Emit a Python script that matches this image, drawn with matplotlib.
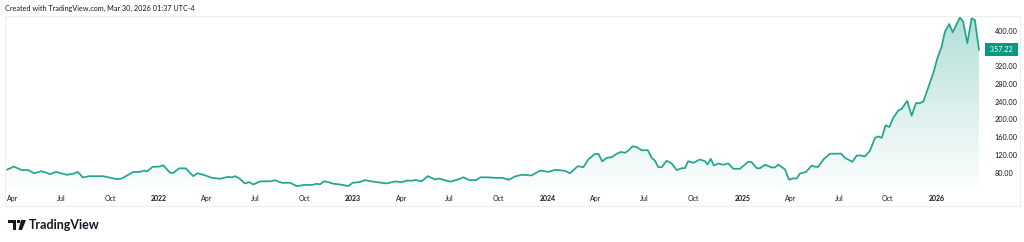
"""
Weekly price chart in the TradingView area style (line + gradient fill).
Values read off the reference picture; x is stored as decimal years.
"""

import matplotlib

matplotlib.use("Agg")
import matplotlib.pyplot as plt
import matplotlib.dates as mdates
import matplotlib.transforms as mtransforms
from matplotlib.patches import Polygon, Rectangle
import numpy as np
import pandas as pd


# data (decimal year, close)
YEARS = [
    2021.220, 2021.254, 2021.294, 2021.328, 2021.357, 2021.397, 2021.440, 2021.470,
    2021.525, 2021.559, 2021.582, 2021.608, 2021.642, 2021.712, 2021.783, 2021.808,
    2021.868, 2021.902, 2021.923, 2021.937, 2021.968, 2022.002, 2022.022, 2022.036,
    2022.057, 2022.074, 2022.103, 2022.137, 2022.176, 2022.197, 2022.228, 2022.271,
    2022.314, 2022.356, 2022.374, 2022.391, 2022.411, 2022.442, 2022.464, 2022.485,
    2022.519, 2022.579, 2022.596, 2022.631, 2022.674, 2022.708, 2022.751, 2022.785,
    2022.811, 2022.828, 2022.848, 2022.870, 2022.896, 2022.931, 2022.973, 2022.996,
    2023.030, 2023.059, 2023.102, 2023.171, 2023.213, 2023.248, 2023.277, 2023.299,
    2023.316, 2023.351, 2023.382, 2023.419, 2023.441, 2023.496, 2023.539, 2023.565,
    2023.595, 2023.630, 2023.654, 2023.702, 2023.736, 2023.762, 2023.799, 2023.830,
    2023.865, 2023.916, 2023.959, 2024.002, 2024.036, 2024.087, 2024.113, 2024.153,
    2024.182, 2024.207, 2024.242, 2024.259, 2024.279, 2024.302, 2024.327, 2024.353,
    2024.375, 2024.396, 2024.413, 2024.435, 2024.456, 2024.482, 2024.513, 2024.533,
    2024.550, 2024.567, 2024.585, 2024.610, 2024.636, 2024.662, 2024.687, 2024.704,
    2024.721, 2024.747, 2024.781, 2024.807, 2024.821, 2024.837, 2024.853, 2024.876,
    2024.901, 2024.927, 2024.953, 2024.987, 2025.030, 2025.047, 2025.073, 2025.090,
    2025.116, 2025.150, 2025.167, 2025.184, 2025.219, 2025.239, 2025.258, 2025.279,
    2025.296, 2025.327, 2025.356, 2025.373, 2025.390, 2025.416, 2025.450, 2025.484,
    2025.506, 2025.527, 2025.565, 2025.587, 2025.604, 2025.630, 2025.656, 2025.681,
    2025.698, 2025.716, 2025.736, 2025.755, 2025.775, 2025.801, 2025.818, 2025.847,
    2025.870, 2025.892, 2025.913, 2025.930, 2025.964, 2025.981, 2026.002, 2026.024,
    2026.041, 2026.063, 2026.081, 2026.118, 2026.135, 2026.156, 2026.178, 2026.195,
    2026.216,
]
CLOSE = [
    87.4, 94.0, 86.0, 86.0, 79.0, 83.6, 77.0, 82.0,
    75.5, 77.8, 82.0, 69.5, 72.4, 72.4, 65.6, 67.0,
    82.0, 82.0, 85.0, 83.0, 93.5, 94.0, 97.0, 90.0,
    80.0, 80.0, 90.0, 90.0, 72.4, 79.0, 75.5, 68.8,
    66.5, 71.0, 69.5, 72.4, 68.0, 56.0, 59.0, 53.7,
    60.5, 61.0, 63.4, 57.5, 57.5, 50.0, 53.0, 52.5,
    55.3, 54.0, 61.0, 59.0, 55.3, 53.7, 50.0, 57.5,
    59.0, 63.4, 60.0, 56.0, 60.5, 59.0, 62.7, 62.0,
    63.8, 61.0, 72.4, 65.0, 67.0, 60.0, 65.0, 70.0,
    63.5, 63.5, 70.0, 69.5, 68.5, 68.8, 64.3, 71.7,
    75.5, 74.0, 85.0, 82.0, 86.7, 84.5, 79.0, 94.8,
    92.6, 110.0, 122.6, 122.6, 106.0, 113.6, 115.0, 122.6,
    127.0, 125.0, 130.0, 139.7, 138.0, 130.7, 131.0, 113.6,
    107.6, 92.6, 92.6, 107.0, 101.0, 86.0, 90.3, 90.3,
    106.0, 102.4, 110.0, 106.0, 98.6, 111.4, 96.4, 101.0,
    98.0, 101.0, 89.0, 89.0, 105.0, 104.0, 90.3, 90.3,
    98.0, 92.0, 92.0, 98.6, 87.4, 64.3, 67.2, 67.2,
    78.4, 82.0, 96.4, 93.5, 93.5, 110.0, 123.0, 123.0,
    123.3, 113.6, 104.7, 118.8, 119.0, 117.0, 130.0, 158.5,
    162.0, 158.5, 186.8, 183.0, 203.4, 220.4, 223.5, 242.0,
    208.5, 237.0, 237.0, 240.6, 283.0, 304.0, 338.0, 364.0,
    397.6, 415.0, 396.3, 430.0, 420.0, 371.6, 427.7, 424.0,
    357.22,
]
# 360.00 sits under the last-price tag, so it is not shown
PRICE_TICKS = [80, 120, 160, 200, 240, 280, 320, 400]
LAST_PRICE = 357.22
HEADER = "Created with TradingView.com, Mar 30, 2026 01:37 UTC-4"

LINE = "#22a58c"
TAG = "#089981"
TEXT = "#131722"


def to_dates(years):
    years = np.asarray(years, dtype=float)
    base = pd.Timestamp("2021-01-01")
    return base + pd.to_timedelta((years - 2021.0) * 365.25, unit="D")


dates = to_dates(YEARS)
close = np.asarray(CLOSE)

fig = plt.figure(figsize=(10.24, 2.42), dpi=100)
fig.patch.set_facecolor("white")

# panel frame
fig.add_artist(Rectangle((5 / 1024, 1 - 206 / 242), 1015 / 1024, 190 / 242,
                         transform=fig.transFigure, fill=False,
                         edgecolor="#eceef2", linewidth=0.8))

ax = fig.add_axes([5 / 1024, 1 - 187 / 242, 980 / 1024, 171 / 242])
x0, x1 = to_dates([2021.208, 2026.247])
ymin, ymax = 48, 433
ax.set_xlim(x0, x1)
ax.set_ylim(ymin, ymax)

# gradient fill clipped to the area under the line
xn = mdates.date2num(dates)
poly = np.column_stack([np.r_[xn[0], xn, xn[-1]], np.r_[ymin, close, ymin]])
clip = Polygon(poly, closed=True, facecolor="none", edgecolor="none")
ax.add_patch(clip)
grad = np.linspace(0, 1, 256).reshape(-1, 1)
rgba = np.zeros((256, 1, 4))
rgba[..., :3] = matplotlib.colors.to_rgb(TAG)
rgba[..., 3] = 0.02 + 0.30 * grad ** 1.1
img = ax.imshow(rgba, aspect="auto", origin="lower",
                extent=[xn[0], xn[-1], ymin, ymax], zorder=1)
img.set_clip_path(clip)

ax.plot(dates, close, color=LINE, linewidth=1.25, zorder=3,
        solid_joinstyle="round")

for s in ax.spines.values():
    s.set_visible(False)

# price axis on the right
ax.yaxis.tick_right()
ax.set_yticks(PRICE_TICKS)
ax.set_yticklabels([f"{v:.2f}" for v in PRICE_TICKS])
ax.tick_params(axis="y", length=0, pad=7, labelsize=5.2, labelcolor=TEXT)
for lbl in ax.get_yticklabels():
    lbl.set_fontfamily("Lato")

# time axis: quarters, years in bold
qt = pd.date_range("2021-04-01", "2026-01-01", freq="QS")
ax.set_xticks(qt)
ax.set_xticklabels([str(d.year) if d.month == 1 else d.strftime("%b") for d in qt])
ax.tick_params(axis="x", length=0, pad=6, labelsize=5, labelcolor=TEXT)
for d, lbl in zip(qt, ax.get_xticklabels()):
    lbl.set_fontfamily("Lato")
    if d.month == 1:
        lbl.set_fontweight("bold")

# last-price tag
trans = mtransforms.blended_transform_factory(ax.transAxes, ax.transData)
ax.text(1.0 + 3 / 980, LAST_PRICE, f" {LAST_PRICE:.2f} ", transform=trans,
        ha="left", va="center", fontsize=5.2, color="white", family="Lato",
        bbox=dict(boxstyle="square,pad=0.45", facecolor=TAG, edgecolor="none"),
        zorder=5, clip_on=False)

# header and logo
fig.text(5 / 1024, 1 - 8 / 242, HEADER, ha="left", va="center",
         fontsize=5.2, color=TEXT, family="Lato")
fig.text(29 / 1024, 1 - 225 / 242, "TradingView", ha="left", va="center",
         fontsize=9, fontweight="bold", color=TEXT, family="Lato")


def fig_poly(pts):
    xy = [(x / 1024, 1 - y / 242) for x, y in pts]
    fig.add_artist(Polygon(xy, closed=True, transform=fig.transFigure,
                           facecolor=TEXT, edgecolor="none"))


fig_poly([(8, 220), (16, 220), (16, 230), (13, 230), (13, 223), (8, 223)])
fig_poly([(17, 220), (20, 220), (20, 223), (17, 223)])
fig_poly([(21, 220), (26, 220), (22, 230), (18.5, 230)])

fig.savefig("out.png", dpi=100, facecolor="white")
